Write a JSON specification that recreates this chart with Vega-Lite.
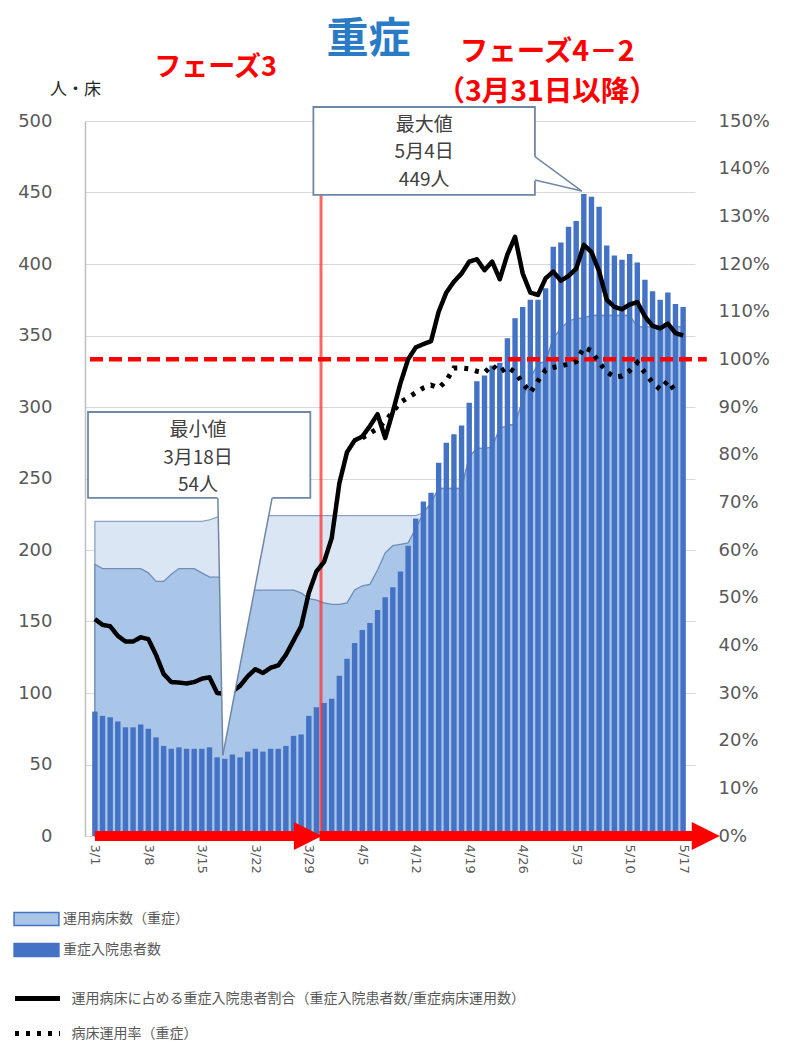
{
  "$schema": "https://vega.github.io/schema/vega-lite/v6.json",
  "width": 610,
  "height": 715,
  "autosize": {"type": "none"},
  "padding": {"left": 85, "top": 121, "right": 92, "bottom": 205},
  "background": "white",
  "config": {"view": {"stroke": null}, "font": "DejaVu Sans"},
  "datasets": {
    "main": [
      {"d":0,"date":"3/1","patients":87,"beds":190,"light":220,"ratio":45.5,"util":null},
      {"d":1,"date":"3/2","patients":84,"beds":187,"light":220,"ratio":44.3,"util":null},
      {"d":2,"date":"3/3","patients":83,"beds":187,"light":220,"ratio":44,"util":null},
      {"d":3,"date":"3/4","patients":80,"beds":187,"light":220,"ratio":42,"util":null},
      {"d":4,"date":"3/5","patients":76,"beds":187,"light":220,"ratio":40.8,"util":null},
      {"d":5,"date":"3/6","patients":76,"beds":187,"light":220,"ratio":40.8,"util":null},
      {"d":6,"date":"3/7","patients":78,"beds":187,"light":220,"ratio":41.7,"util":null},
      {"d":7,"date":"3/8","patients":75,"beds":184,"light":220,"ratio":41.3,"util":null},
      {"d":8,"date":"3/9","patients":69,"beds":178,"light":220,"ratio":38,"util":null},
      {"d":9,"date":"3/10","patients":63,"beds":178,"light":220,"ratio":34,"util":null},
      {"d":10,"date":"3/11","patients":61,"beds":183,"light":220,"ratio":32.3,"util":null},
      {"d":11,"date":"3/12","patients":62,"beds":187,"light":220,"ratio":32.2,"util":null},
      {"d":12,"date":"3/13","patients":61,"beds":187,"light":220,"ratio":32,"util":null},
      {"d":13,"date":"3/14","patients":61,"beds":187,"light":220,"ratio":32.3,"util":null},
      {"d":14,"date":"3/15","patients":61,"beds":184,"light":220,"ratio":33,"util":null},
      {"d":15,"date":"3/16","patients":62,"beds":181,"light":221,"ratio":33.3,"util":null},
      {"d":16,"date":"3/17","patients":55,"beds":181,"light":223,"ratio":30,"util":null},
      {"d":17,"date":"3/18","patients":54,"beds":181,"light":223,"ratio":29.8,"util":null},
      {"d":18,"date":"3/19","patients":57,"beds":178,"light":224,"ratio":30.3,"util":null},
      {"d":19,"date":"3/20","patients":55,"beds":172,"light":224,"ratio":31.5,"util":null},
      {"d":20,"date":"3/21","patients":59,"beds":172,"light":224,"ratio":33.5,"util":null},
      {"d":21,"date":"3/22","patients":61,"beds":172,"light":224,"ratio":35,"util":null},
      {"d":22,"date":"3/23","patients":59,"beds":172,"light":224,"ratio":34.2,"util":null},
      {"d":23,"date":"3/24","patients":61,"beds":172,"light":224,"ratio":35.3,"util":null},
      {"d":24,"date":"3/25","patients":61,"beds":172,"light":224,"ratio":35.8,"util":null},
      {"d":25,"date":"3/26","patients":63,"beds":172,"light":224,"ratio":38,"util":null},
      {"d":26,"date":"3/27","patients":70,"beds":172,"light":224,"ratio":41,"util":null},
      {"d":27,"date":"3/28","patients":71,"beds":170,"light":224,"ratio":44,"util":null},
      {"d":28,"date":"3/29","patients":84,"beds":166,"light":224,"ratio":51,"util":null},
      {"d":29,"date":"3/30","patients":90,"beds":165,"light":224,"ratio":55.5,"util":null},
      {"d":30,"date":"3/31","patients":93,"beds":163,"light":224,"ratio":57.5,"util":null},
      {"d":31,"date":"4/1","patients":96,"beds":162,"light":224,"ratio":62.5,"util":null},
      {"d":32,"date":"4/2","patients":112,"beds":162,"light":224,"ratio":74,"util":null},
      {"d":33,"date":"4/3","patients":124,"beds":163,"light":224,"ratio":80.5,"util":null},
      {"d":34,"date":"4/4","patients":135,"beds":172,"light":224,"ratio":83,"util":null},
      {"d":35,"date":"4/5","patients":144,"beds":175,"light":224,"ratio":83.8,"util":83.5},
      {"d":36,"date":"4/6","patients":149,"beds":176,"light":224,"ratio":86,"util":84.5},
      {"d":37,"date":"4/7","patients":158,"beds":186,"light":224,"ratio":88.5,"util":85.5},
      {"d":38,"date":"4/8","patients":167,"beds":198,"light":224,"ratio":83.5,"util":87},
      {"d":39,"date":"4/9","patients":174,"beds":203,"light":224,"ratio":89,"util":89},
      {"d":40,"date":"4/10","patients":185,"beds":204,"light":224,"ratio":95,"util":91},
      {"d":41,"date":"4/11","patients":203,"beds":205,"light":224,"ratio":100,"util":92},
      {"d":42,"date":"4/12","patients":222,"beds":215,"light":224,"ratio":102.5,"util":93},
      {"d":43,"date":"4/13","patients":234,"beds":226,"light":226,"ratio":103.2,"util":94},
      {"d":44,"date":"4/14","patients":240,"beds":233,"light":233,"ratio":103.8,"util":94.6},
      {"d":45,"date":"4/15","patients":261,"beds":243,"light":243,"ratio":110,"util":94},
      {"d":46,"date":"4/16","patients":275,"beds":243,"light":243,"ratio":114,"util":95.5},
      {"d":47,"date":"4/17","patients":281,"beds":243,"light":243,"ratio":116.3,"util":98.2},
      {"d":48,"date":"4/18","patients":287,"beds":243,"light":243,"ratio":118,"util":98.2},
      {"d":49,"date":"4/19","patients":303,"beds":265,"light":265,"ratio":120.5,"util":98},
      {"d":50,"date":"4/20","patients":318,"beds":271,"light":271,"ratio":121,"util":97.5},
      {"d":51,"date":"4/21","patients":322,"beds":271,"light":271,"ratio":118.7,"util":97.2},
      {"d":52,"date":"4/22","patients":329,"beds":272,"light":272,"ratio":120.5,"util":98.8},
      {"d":53,"date":"4/23","patients":331,"beds":285,"light":285,"ratio":116.8,"util":97.3},
      {"d":54,"date":"4/24","patients":348,"beds":287,"light":287,"ratio":122,"util":98.4},
      {"d":55,"date":"4/25","patients":362,"beds":288,"light":288,"ratio":125.7,"util":97.3},
      {"d":56,"date":"4/26","patients":370,"beds":305,"light":305,"ratio":118,"util":95},
      {"d":57,"date":"4/27","patients":375,"beds":320,"light":320,"ratio":114,"util":93},
      {"d":58,"date":"4/28","patients":375,"beds":330,"light":330,"ratio":113.5,"util":95.5},
      {"d":59,"date":"4/29","patients":383,"beds":332,"light":332,"ratio":117,"util":97.8},
      {"d":60,"date":"4/30","patients":412,"beds":348,"light":348,"ratio":118.4,"util":98.3},
      {"d":61,"date":"5/1","patients":415,"beds":355,"light":355,"ratio":116.5,"util":98.6},
      {"d":62,"date":"5/2","patients":426,"beds":360,"light":360,"ratio":117.5,"util":99},
      {"d":63,"date":"5/3","patients":430,"beds":362,"light":362,"ratio":119,"util":99.5},
      {"d":64,"date":"5/4","patients":449,"beds":362,"light":362,"ratio":124,"util":102.5},
      {"d":65,"date":"5/5","patients":447,"beds":364,"light":364,"ratio":122.5,"util":101.8},
      {"d":66,"date":"5/6","patients":440,"beds":364,"light":364,"ratio":118.5,"util":99.3},
      {"d":67,"date":"5/7","patients":413,"beds":364,"light":364,"ratio":112.5,"util":97.4},
      {"d":68,"date":"5/8","patients":406,"beds":364,"light":364,"ratio":111,"util":96.3},
      {"d":69,"date":"5/9","patients":403,"beds":364,"light":364,"ratio":110.5,"util":96.5},
      {"d":70,"date":"5/10","patients":407,"beds":364,"light":364,"ratio":111.5,"util":97.6},
      {"d":71,"date":"5/11","patients":401,"beds":356,"light":356,"ratio":112,"util":99.3},
      {"d":72,"date":"5/12","patients":389,"beds":356,"light":356,"ratio":109,"util":97.2},
      {"d":73,"date":"5/13","patients":381,"beds":356,"light":356,"ratio":107,"util":95.1},
      {"d":74,"date":"5/14","patients":375,"beds":356,"light":356,"ratio":106.5,"util":93.7},
      {"d":75,"date":"5/15","patients":380,"beds":356,"light":356,"ratio":107.5,"util":95.5},
      {"d":76,"date":"5/16","patients":372,"beds":356,"light":356,"ratio":105.5,"util":93.2},
      {"d":77,"date":"5/17","patients":370,"beds":356,"light":356,"ratio":105,"util":null}
    ]
  },
  "layer": [
    {
      "data": {"name": "main"},
      "mark": {"type": "area", "color": "#dae6f4", "stroke": "#8aa2c4", "strokeWidth": 1.3, "opacity": 1},
      "encoding": {
        "x": {"field": "d", "type": "quantitative", "title": null, "scale": {"domain": [-0.64, 77.9], "nice": false, "zero": false},
          "axis": {"values": [0,7,14,21,28,35,42,49,56,63,70,77], "labelExpr": "['3/1','3/8','3/15','3/22','3/29','4/5','4/12','4/19','4/26','5/3','5/10','5/17'][round(datum.value/7)]", "labelAngle": 90, "labelFontSize": 13, "labelColor": "#595959", "labelFont": "DejaVu Sans", "ticks": false, "domain": false, "grid": false, "labelPadding": 8, "labelOverlap": false, "labelFlush": false}},
        "y": {"field": "light", "type": "quantitative", "scale": {"domain": [0, 500], "nice": false}, "axis": null}
      }
    },
    {
      "data": {"name": "main"},
      "mark": {"type": "area", "stroke": "#6f8db8", "strokeWidth": 1.3, "opacity": 1},
      "encoding": {
        "x": {"field": "d", "type": "quantitative", "title": null, "scale": {"domain": [-0.64, 77.9], "nice": false, "zero": false},
          "axis": {"values": [0,7,14,21,28,35,42,49,56,63,70,77], "labelExpr": "['3/1','3/8','3/15','3/22','3/29','4/5','4/12','4/19','4/26','5/3','5/10','5/17'][round(datum.value/7)]", "labelAngle": 90, "labelFontSize": 13, "labelColor": "#595959", "labelFont": "DejaVu Sans", "ticks": false, "domain": false, "grid": false, "labelPadding": 8, "labelOverlap": false, "labelFlush": false}},
        "y": {"field": "beds", "type": "quantitative", "scale": {"domain": [0, 500], "nice": false}, "axis": null},
        "fill": {"datum": "運用病床数（重症）", "type": "nominal",
          "scale": {"domain": ["運用病床数（重症）", "重症入院患者数"], "range": ["#a9c6e8", "#4472c4"]},
          "legend": {"orient": "none", "legendX": -68.5, "legendY": 778, "direction": "vertical", "title": null, "symbolType": "M-1.18,-0.34H1.18V0.34H-1.18Z", "symbolSize": 1444, "symbolStrokeColor": "#4472c4", "symbolStrokeWidth": 1.5, "labelFont": "Noto Sans CJK JP", "labelFontSize": 14, "labelColor": "#595959", "labelLimit": 900, "labelOffset": 6.5, "rowPadding": 1, "padding": 0}}
      }
    },
    {
      "data": {"name": "main"},
      "mark": {"type": "bar", "orient": "vertical", "size": 5.4, "opacity": 1},
      "encoding": {
        "x": {"field": "d", "type": "quantitative", "title": null, "scale": {"domain": [-0.64, 77.9], "nice": false, "zero": false},
          "axis": {"values": [0,7,14,21,28,35,42,49,56,63,70,77], "labelExpr": "['3/1','3/8','3/15','3/22','3/29','4/5','4/12','4/19','4/26','5/3','5/10','5/17'][round(datum.value/7)]", "labelAngle": 90, "labelFontSize": 13, "labelColor": "#595959", "labelFont": "DejaVu Sans", "ticks": false, "domain": false, "grid": false, "labelPadding": 8, "labelOverlap": false, "labelFlush": false}},
        "y": {"field": "patients", "type": "quantitative", "title": "人・床", "scale": {"domain": [0, 500], "nice": false},
          "axis": {"orient": "left", "values": [0,50,100,150,200,250,300,350,400,450,500], "grid": true, "gridColor": "#d9d9d9", "gridWidth": 1.2, "domain": true, "domainColor": "#bfbfbf", "domainWidth": 1.5, "ticks": false, "labelPadding": 33, "labelFontSize": 18, "labelColor": "#595959", "labelFont": "DejaVu Sans", "titleAngle": 0, "titleFont": "Noto Sans CJK JP", "titleFontSize": 17, "titleFontWeight": "normal", "titleColor": "#262626", "titleX": -10, "titleY": -32, "titleAlign": "center", "titleBaseline": "middle"}},
        "fill": {"datum": "重症入院患者数", "type": "nominal",
          "scale": {"domain": ["運用病床数（重症）", "重症入院患者数"], "range": ["#a9c6e8", "#4472c4"]},
          "legend": {"orient": "none", "legendX": -68.5, "legendY": 778, "direction": "vertical", "title": null, "symbolType": "M-1.18,-0.34H1.18V0.34H-1.18Z", "symbolSize": 1444, "symbolStrokeColor": "#4472c4", "symbolStrokeWidth": 1.5, "labelFont": "Noto Sans CJK JP", "labelFontSize": 14, "labelColor": "#595959", "labelLimit": 900, "labelOffset": 6.5, "rowPadding": 1, "padding": 0}}
      }
    },
    {
      "data": {"values": [{"d": 29.6, "v0": 0, "v1": 460}]},
      "mark": {"type": "rule", "color": "#ff3030", "strokeWidth": 3, "opacity": 0.75},
      "encoding": {
        "x": {"field": "d", "type": "quantitative", "title": null, "scale": {"domain": [-0.64, 77.9], "nice": false, "zero": false},
          "axis": {"values": [0,7,14,21,28,35,42,49,56,63,70,77], "labelExpr": "['3/1','3/8','3/15','3/22','3/29','4/5','4/12','4/19','4/26','5/3','5/10','5/17'][round(datum.value/7)]", "labelAngle": 90, "labelFontSize": 13, "labelColor": "#595959", "labelFont": "DejaVu Sans", "ticks": false, "domain": false, "grid": false, "labelPadding": 8, "labelOverlap": false, "labelFlush": false}},
        "y": {"field": "v0", "type": "quantitative", "scale": {"domain": [0, 500], "nice": false}, "axis": null},
        "y2": {"field": "v1"}
      }
    },
    {
      "data": {"values": [{"x0": -0.64, "x1": 80.1, "pct": 100}]},
      "mark": {"type": "rule", "color": "#ff0000", "strokeWidth": 4.5, "strokeDash": [13, 6]},
      "encoding": {
        "x": {"field": "x0", "type": "quantitative", "title": null, "scale": {"domain": [-0.64, 77.9], "nice": false, "zero": false},
          "axis": {"values": [0,7,14,21,28,35,42,49,56,63,70,77], "labelExpr": "['3/1','3/8','3/15','3/22','3/29','4/5','4/12','4/19','4/26','5/3','5/10','5/17'][round(datum.value/7)]", "labelAngle": 90, "labelFontSize": 13, "labelColor": "#595959", "labelFont": "DejaVu Sans", "ticks": false, "domain": false, "grid": false, "labelPadding": 8, "labelOverlap": false, "labelFlush": false}},
        "x2": {"field": "x1"},
        "y": {"field": "pct", "type": "quantitative", "scale": {"domain": [0, 150], "nice": false}, "axis": null}
      }
    },
    {
      "data": {"name": "main"},
      "mark": {"type": "line", "color": "#000000", "strokeWidth": 4.5, "strokeJoin": "round"},
      "encoding": {
        "x": {"field": "d", "type": "quantitative", "title": null, "scale": {"domain": [-0.64, 77.9], "nice": false, "zero": false},
          "axis": {"values": [0,7,14,21,28,35,42,49,56,63,70,77], "labelExpr": "['3/1','3/8','3/15','3/22','3/29','4/5','4/12','4/19','4/26','5/3','5/10','5/17'][round(datum.value/7)]", "labelAngle": 90, "labelFontSize": 13, "labelColor": "#595959", "labelFont": "DejaVu Sans", "ticks": false, "domain": false, "grid": false, "labelPadding": 8, "labelOverlap": false, "labelFlush": false}},
        "y": {"field": "ratio", "type": "quantitative", "title": null, "scale": {"domain": [0, 150], "nice": false},
          "axis": {"orient": "right", "values": [0,10,20,30,40,50,60,70,80,90,100,110,120,130,140,150], "labelExpr": "datum.value + '%'", "grid": false, "domain": false, "ticks": false, "labelPadding": 23, "labelFontSize": 18, "labelColor": "#595959", "labelFont": "DejaVu Sans"}},
        "strokeDash": {"datum": "運用病床に占める重症入院患者割合（重症入院患者数/重症病床運用数）", "type": "nominal",
          "scale": {"domain": ["運用病床に占める重症入院患者割合（重症入院患者数/重症病床運用数）", "病床運用率（重症）"], "range": [[1, 0], [4, 7]]},
          "legend": {"orient": "none", "legendX": -72.5, "legendY": 852.5, "direction": "vertical", "title": null, "symbolType": "stroke", "symbolSize": 2025, "symbolStrokeColor": "#000000", "symbolStrokeWidth": 5, "labelFont": "Noto Sans CJK JP", "labelFontSize": 14, "labelColor": "#595959", "labelLimit": 900, "labelOffset": 9, "rowPadding": -6, "padding": 0}}
      }
    },
    {
      "data": {"name": "main"},
      "mark": {"type": "line", "color": "#000000", "strokeWidth": 5},
      "encoding": {
        "x": {"field": "d", "type": "quantitative", "title": null, "scale": {"domain": [-0.64, 77.9], "nice": false, "zero": false},
          "axis": {"values": [0,7,14,21,28,35,42,49,56,63,70,77], "labelExpr": "['3/1','3/8','3/15','3/22','3/29','4/5','4/12','4/19','4/26','5/3','5/10','5/17'][round(datum.value/7)]", "labelAngle": 90, "labelFontSize": 13, "labelColor": "#595959", "labelFont": "DejaVu Sans", "ticks": false, "domain": false, "grid": false, "labelPadding": 8, "labelOverlap": false, "labelFlush": false}},
        "y": {"field": "util", "type": "quantitative", "scale": {"domain": [0, 150], "nice": false}, "axis": null},
        "strokeDash": {"datum": "病床運用率（重症）", "type": "nominal",
          "scale": {"domain": ["運用病床に占める重症入院患者割合（重症入院患者数/重症病床運用数）", "病床運用率（重症）"], "range": [[1, 0], [4, 7]]},
          "legend": {"orient": "none", "legendX": -72.5, "legendY": 852.5, "direction": "vertical", "title": null, "symbolType": "stroke", "symbolSize": 2025, "symbolStrokeColor": "#000000", "symbolStrokeWidth": 5, "labelFont": "Noto Sans CJK JP", "labelFontSize": 14, "labelColor": "#595959", "labelLimit": 900, "labelOffset": 9, "rowPadding": -6, "padding": 0}}
      }
    },
    {
      "data": {"values": [{"x0": 0, "x1": 27.4, "v": 0}, {"x0": 29.4, "x1": 78.8, "v": 0}]},
      "mark": {"type": "rule", "color": "#ff0000", "strokeWidth": 10},
      "encoding": {
        "x": {"field": "x0", "type": "quantitative", "title": null, "scale": {"domain": [-0.64, 77.9], "nice": false, "zero": false},
          "axis": {"values": [0,7,14,21,28,35,42,49,56,63,70,77], "labelExpr": "['3/1','3/8','3/15','3/22','3/29','4/5','4/12','4/19','4/26','5/3','5/10','5/17'][round(datum.value/7)]", "labelAngle": 90, "labelFontSize": 13, "labelColor": "#595959", "labelFont": "DejaVu Sans", "ticks": false, "domain": false, "grid": false, "labelPadding": 8, "labelOverlap": false, "labelFlush": false}},
        "x2": {"field": "x1"},
        "y": {"field": "v", "type": "quantitative", "scale": {"domain": [0, 500], "nice": false}, "axis": null}
      }
    },
    {
      "data": {"values": [{"x": 27.88, "v": 0}, {"x": 79.96, "v": 0}]},
      "mark": {"type": "point", "shape": "M1,0L-1,-1L-1,1Z", "size": 784, "filled": true, "color": "#ff0000", "opacity": 1},
      "encoding": {
        "x": {"field": "x", "type": "quantitative", "title": null, "scale": {"domain": [-0.64, 77.9], "nice": false, "zero": false},
          "axis": {"values": [0,7,14,21,28,35,42,49,56,63,70,77], "labelExpr": "['3/1','3/8','3/15','3/22','3/29','4/5','4/12','4/19','4/26','5/3','5/10','5/17'][round(datum.value/7)]", "labelAngle": 90, "labelFontSize": 13, "labelColor": "#595959", "labelFont": "DejaVu Sans", "ticks": false, "domain": false, "grid": false, "labelPadding": 8, "labelOverlap": false, "labelFlush": false}},
        "y": {"field": "v", "type": "quantitative", "scale": {"domain": [0, 500], "nice": false}, "axis": null}
      }
    },
    {
      "data": {"values": [{"x0": 28.6, "x1": 57.6, "v0": 448.3, "v1": 509.8}, {"x0": -0.9, "x1": 28.2, "v0": 236.4, "v1": 296.5}]},
      "mark": {"type": "rect", "fill": "#ffffff", "stroke": "#6f87a6", "strokeWidth": 1.8},
      "encoding": {
        "x": {"field": "x0", "type": "quantitative", "title": null, "scale": {"domain": [-0.64, 77.9], "nice": false, "zero": false},
          "axis": {"values": [0,7,14,21,28,35,42,49,56,63,70,77], "labelExpr": "['3/1','3/8','3/15','3/22','3/29','4/5','4/12','4/19','4/26','5/3','5/10','5/17'][round(datum.value/7)]", "labelAngle": 90, "labelFontSize": 13, "labelColor": "#595959", "labelFont": "DejaVu Sans", "ticks": false, "domain": false, "grid": false, "labelPadding": 8, "labelOverlap": false, "labelFlush": false}},
        "x2": {"field": "x1"},
        "y": {"field": "v0", "type": "quantitative", "scale": {"domain": [0, 500], "nice": false}, "axis": null},
        "y2": {"field": "v1"}
      }
    },
    {
      "data": {"values": [{"v": 237.3, "xl": 16.05, "xr": 23.25}, {"v": 56.5, "xl": 16.75, "xr": 16.75}]},
      "mark": {"type": "area", "orient": "horizontal", "fill": "#ffffff", "opacity": 1},
      "encoding": {
        "y": {"field": "v", "type": "quantitative", "scale": {"domain": [0, 500], "nice": false}, "axis": null},
        "x": {"field": "xl", "type": "quantitative", "title": null, "scale": {"domain": [-0.64, 77.9], "nice": false, "zero": false},
          "axis": {"values": [0,7,14,21,28,35,42,49,56,63,70,77], "labelExpr": "['3/1','3/8','3/15','3/22','3/29','4/5','4/12','4/19','4/26','5/3','5/10','5/17'][round(datum.value/7)]", "labelAngle": 90, "labelFontSize": 13, "labelColor": "#595959", "labelFont": "DejaVu Sans", "ticks": false, "domain": false, "grid": false, "labelPadding": 8, "labelOverlap": false, "labelFlush": false}},
        "x2": {"field": "xr"}
      }
    },
    {
      "data": {"values": [{"d": 57.45, "top": 475.5, "bot": 458.3}, {"d": 63.74, "top": 451, "bot": 451}]},
      "mark": {"type": "area", "fill": "#ffffff", "opacity": 1},
      "encoding": {
        "x": {"field": "d", "type": "quantitative", "title": null, "scale": {"domain": [-0.64, 77.9], "nice": false, "zero": false},
          "axis": {"values": [0,7,14,21,28,35,42,49,56,63,70,77], "labelExpr": "['3/1','3/8','3/15','3/22','3/29','4/5','4/12','4/19','4/26','5/3','5/10','5/17'][round(datum.value/7)]", "labelAngle": 90, "labelFontSize": 13, "labelColor": "#595959", "labelFont": "DejaVu Sans", "ticks": false, "domain": false, "grid": false, "labelPadding": 8, "labelOverlap": false, "labelFlush": false}},
        "y": {"field": "top", "type": "quantitative", "scale": {"domain": [0, 500], "nice": false}, "axis": null},
        "y2": {"field": "bot"}
      }
    },
    {
      "data": {"values": [
        {"x0": 16.1, "v0": 236.4, "x1": 16.75, "v1": 56.5},
        {"x0": 23.2, "v0": 236.4, "x1": 16.75, "v1": 56.5},
        {"x0": 57.6, "v0": 475.1, "x1": 63.74, "v1": 451},
        {"x0": 57.6, "v0": 458.7, "x1": 63.74, "v1": 451}
      ]},
      "mark": {"type": "rule", "color": "#6f87a6", "strokeWidth": 1.5},
      "encoding": {
        "x": {"field": "x0", "type": "quantitative", "title": null, "scale": {"domain": [-0.64, 77.9], "nice": false, "zero": false},
          "axis": {"values": [0,7,14,21,28,35,42,49,56,63,70,77], "labelExpr": "['3/1','3/8','3/15','3/22','3/29','4/5','4/12','4/19','4/26','5/3','5/10','5/17'][round(datum.value/7)]", "labelAngle": 90, "labelFontSize": 13, "labelColor": "#595959", "labelFont": "DejaVu Sans", "ticks": false, "domain": false, "grid": false, "labelPadding": 8, "labelOverlap": false, "labelFlush": false}},
        "x2": {"field": "x1"},
        "y": {"field": "v0", "type": "quantitative", "scale": {"domain": [0, 500], "nice": false}, "axis": null},
        "y2": {"field": "v1"}
      }
    },
    {
      "data": {"values": [
        {"label": "最大値", "d": 43.1, "v": 497.2},
        {"label": "5月4日", "d": 43.1, "v": 478.3},
        {"label": "449人", "d": 43.1, "v": 458.7},
        {"label": "最小値", "d": 13.5, "v": 283.9},
        {"label": "3月18日", "d": 13.5, "v": 264.5},
        {"label": "54人", "d": 13.5, "v": 245.5}
      ]},
      "mark": {"type": "text", "font": "Noto Sans CJK JP", "fontSize": 19, "color": "#404040", "align": "center", "baseline": "middle"},
      "encoding": {
        "x": {"field": "d", "type": "quantitative", "title": null, "scale": {"domain": [-0.64, 77.9], "nice": false, "zero": false},
          "axis": {"values": [0,7,14,21,28,35,42,49,56,63,70,77], "labelExpr": "['3/1','3/8','3/15','3/22','3/29','4/5','4/12','4/19','4/26','5/3','5/10','5/17'][round(datum.value/7)]", "labelAngle": 90, "labelFontSize": 13, "labelColor": "#595959", "labelFont": "DejaVu Sans", "ticks": false, "domain": false, "grid": false, "labelPadding": 8, "labelOverlap": false, "labelFlush": false}},
        "y": {"field": "v", "type": "quantitative", "scale": {"domain": [0, 500], "nice": false}, "axis": null},
        "text": {"field": "label"}
      }
    },
    {
      "data": {"values": [{"label": "重症", "d": 35.8, "v": 556.6}]},
      "mark": {"type": "text", "font": "Noto Sans CJK JP", "fontSize": 42, "fontWeight": "bold", "color": "#2a7bc6", "align": "center", "baseline": "middle"},
      "encoding": {
        "x": {"field": "d", "type": "quantitative", "title": null, "scale": {"domain": [-0.64, 77.9], "nice": false, "zero": false},
          "axis": {"values": [0,7,14,21,28,35,42,49,56,63,70,77], "labelExpr": "['3/1','3/8','3/15','3/22','3/29','4/5','4/12','4/19','4/26','5/3','5/10','5/17'][round(datum.value/7)]", "labelAngle": 90, "labelFontSize": 13, "labelColor": "#595959", "labelFont": "DejaVu Sans", "ticks": false, "domain": false, "grid": false, "labelPadding": 8, "labelOverlap": false, "labelFlush": false}},
        "y": {"field": "v", "type": "quantitative", "scale": {"domain": [0, 500], "nice": false}, "axis": null},
        "text": {"field": "label"}
      }
    },
    {
      "data": {"values": [{"label": "フェーズ3", "d": 15.8, "v": 537}]},
      "mark": {"type": "text", "font": "Noto Sans CJK JP", "fontSize": 27, "fontWeight": "bold", "color": "#ff0000", "align": "center", "baseline": "middle"},
      "encoding": {
        "x": {"field": "d", "type": "quantitative", "title": null, "scale": {"domain": [-0.64, 77.9], "nice": false, "zero": false},
          "axis": {"values": [0,7,14,21,28,35,42,49,56,63,70,77], "labelExpr": "['3/1','3/8','3/15','3/22','3/29','4/5','4/12','4/19','4/26','5/3','5/10','5/17'][round(datum.value/7)]", "labelAngle": 90, "labelFontSize": 13, "labelColor": "#595959", "labelFont": "DejaVu Sans", "ticks": false, "domain": false, "grid": false, "labelPadding": 8, "labelOverlap": false, "labelFlush": false}},
        "y": {"field": "v", "type": "quantitative", "scale": {"domain": [0, 500], "nice": false}, "axis": null},
        "text": {"field": "label"}
      }
    },
    {
      "data": {"values": [{"label": "フェーズ4－2", "d": 59.2, "v": 548}, {"label": "（3月31日以降）", "d": 59.2, "v": 520.3}]},
      "mark": {"type": "text", "font": "Noto Sans CJK JP", "fontSize": 28.5, "fontWeight": "bold", "color": "#ff0000", "align": "center", "baseline": "middle"},
      "encoding": {
        "x": {"field": "d", "type": "quantitative", "title": null, "scale": {"domain": [-0.64, 77.9], "nice": false, "zero": false},
          "axis": {"values": [0,7,14,21,28,35,42,49,56,63,70,77], "labelExpr": "['3/1','3/8','3/15','3/22','3/29','4/5','4/12','4/19','4/26','5/3','5/10','5/17'][round(datum.value/7)]", "labelAngle": 90, "labelFontSize": 13, "labelColor": "#595959", "labelFont": "DejaVu Sans", "ticks": false, "domain": false, "grid": false, "labelPadding": 8, "labelOverlap": false, "labelFlush": false}},
        "y": {"field": "v", "type": "quantitative", "scale": {"domain": [0, 500], "nice": false}, "axis": null},
        "text": {"field": "label"}
      }
    }
  ],
  "resolve": {"scale": {"y": "independent"}}
}
